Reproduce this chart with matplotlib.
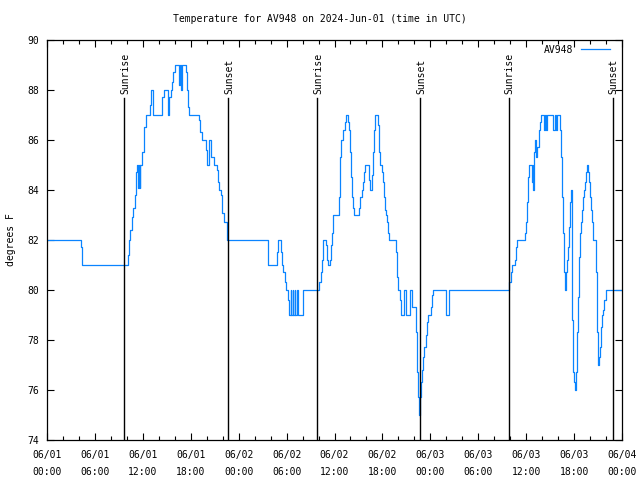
import matplotlib
matplotlib.use("Agg")
import matplotlib.pyplot as plt
from matplotlib.ticker import MultipleLocator

# hours since 2024-06-01 00:00 UTC, temperature (F) held until next point
hours = [0.0, 4.2, 4.4, 10.1, 10.3, 10.45, 10.65, 10.8, 11.0, 11.15, 11.3, 11.4, 11.5, 11.6, 11.7,
         11.9, 12.1, 12.45, 12.85, 13.05, 13.3, 14.45, 14.65, 15.2, 15.3, 15.5, 15.65, 15.8, 16.05,
         16.55, 16.7, 16.8, 16.95, 17.4, 17.5, 17.65, 17.8, 19.05, 19.2, 19.35, 19.85, 20.0, 20.3,
         20.55, 20.85, 21.25, 21.45, 21.55, 21.75, 21.9, 22.15, 22.5,
         27.7, 28.75, 28.95, 29.25, 29.45, 29.6, 29.8, 29.95, 30.15, 30.35, 30.5, 30.6, 30.75, 30.85,
         31.0, 31.1, 31.3, 31.45, 32.0,
         34.1, 34.27, 34.4, 34.52, 34.6, 34.9, 35.02, 35.15, 35.44, 35.56, 35.65, 35.77, 35.85, 36.6,
         36.73, 36.85, 37.1, 37.27, 37.4, 37.65, 37.82, 37.94, 38.07, 38.23, 38.32, 38.4, 39.11,
         39.24, 39.4, 39.61, 39.74, 39.86, 40.36, 40.48, 40.66, 40.78, 40.9, 41.03, 41.4, 41.57,
         41.74, 41.9, 42.11, 42.2, 42.32, 42.49, 42.61, 42.74, 42.86, 43.7, 43.87, 43.99, 44.2,
         44.33, 44.75, 44.9, 45.5, 45.75, 46.2, 46.3, 46.46, 46.58, 46.7, 46.83, 47.0, 47.12, 47.25,
         47.42, 47.54, 47.67, 48.08, 48.25, 48.37, 49.92, 50.34,
         57.89, 58.06, 58.19, 58.6, 58.73, 58.9, 59.9, 60.02, 60.14, 60.27, 60.39, 60.69, 60.82,
         60.9, 60.98, 61.1, 61.23, 61.4, 61.6, 61.73, 61.86, 62.2, 62.36, 62.48, 62.65, 63.4, 63.6,
         63.7, 63.86, 64.24, 64.36, 64.49, 64.65, 64.78, 64.9, 64.99, 65.07, 65.24, 65.36, 65.49,
         65.57, 65.7, 65.78, 65.9, 66.03, 66.15, 66.24, 66.37, 66.45, 66.58, 66.7, 66.83, 66.95,
         67.08, 67.2, 67.37, 67.49, 67.62, 67.74, 67.87, 67.99, 68.12, 68.28, 68.41, 68.7, 68.83,
         68.96, 69.16, 69.29, 69.41, 69.54, 69.66, 69.79, 69.96, 72.0]
temps = [82.0, 81.7, 81.0, 81.4, 82.0, 82.4, 82.9, 83.3, 83.8, 84.7, 85.0, 84.1, 85.0, 84.1, 85.0,
         85.5, 86.5, 87.0, 87.4, 88.0, 87.0, 87.7, 88.0, 87.0, 87.7, 88.0, 88.3, 88.7, 89.0,
         88.2, 89.0, 88.0, 89.0, 88.7, 88.0, 87.3, 87.0, 86.8, 86.3, 86.0, 85.6, 85.0, 86.0,
         85.3, 85.0, 84.8, 84.3, 84.0, 83.8, 83.1, 82.7, 82.0,
         81.0, 81.5, 82.0, 81.5, 81.0, 80.7, 80.3, 80.0, 79.6, 79.0, 80.0, 79.0, 80.0, 79.0,
         80.0, 79.0, 80.0, 79.0, 80.0,
         80.3, 80.7, 81.2, 81.8, 82.0, 81.8, 81.2, 81.0, 81.2, 81.8, 82.3, 82.7, 83.0, 83.7,
         85.3, 86.0, 86.4, 86.7, 87.0, 86.7, 86.4, 85.5, 84.5, 83.7, 83.3, 83.0, 83.3,
         83.7, 84.0, 84.3, 84.7, 85.0, 84.4, 84.0, 84.6, 85.5, 86.4, 87.0, 86.6, 85.5,
         85.0, 84.7, 84.3, 83.7, 83.2, 83.0, 82.7, 82.3, 82.0, 81.5, 80.5, 80.0, 79.6,
         79.0, 80.0, 79.0, 80.0, 79.3, 78.3, 76.7, 75.7, 75.0, 75.7, 76.3, 76.8, 77.3, 77.7,
         78.2, 78.7, 79.0, 79.3, 79.8, 80.0, 79.0, 80.0,
         80.3, 80.7, 81.0, 81.2, 81.7, 82.0, 82.3, 82.7, 83.5, 84.5, 85.0, 84.3, 85.0,
         84.0, 85.5, 86.0, 85.3, 85.7, 86.4, 86.7, 87.0, 86.4, 87.0, 86.4, 87.0, 86.4, 87.0,
         86.4, 87.0, 86.4, 85.3, 83.7, 82.3, 80.7, 80.0, 80.7, 81.2, 81.7, 82.5, 83.5,
         84.0, 82.5, 78.8, 76.7, 76.3, 76.0, 76.7, 78.3, 79.7, 81.3, 82.3, 82.7, 83.2,
         83.7, 84.0, 84.3, 84.7, 85.0, 84.7, 84.3, 83.7, 83.2, 82.7, 82.0, 80.7, 78.3,
         77.0, 77.3, 77.7, 78.5, 79.0, 79.2, 79.6, 80.0, 80.0]

sun_hours = [9.68, 22.71, 33.77, 46.75, 57.8, 70.83]
sun_names = ["Sunrise", "Sunset", "Sunrise", "Sunset", "Sunrise", "Sunset"]

tick_hours = list(range(0, 73, 6))
tick_labels = ["06/01\n00:00", "06/01\n06:00", "06/01\n12:00", "06/01\n18:00",
               "06/02\n00:00", "06/02\n06:00", "06/02\n12:00", "06/02\n18:00",
               "06/03\n00:00", "06/03\n06:00", "06/03\n12:00", "06/03\n18:00",
               "06/04\n00:00"]

plt.rcParams['font.family'] = ['DejaVu Sans Mono']
plt.rcParams['font.size'] = 7

fig = plt.figure(figsize=(6.4, 4.8), dpi=100)
ax = fig.add_axes([47 / 640, 40 / 480, 575 / 640, 400 / 480])

ax.plot(hours, temps, drawstyle='steps-post', color='#0a84ff', lw=0.9, label='AV948')

# sunrise / sunset markers
for h, name in zip(sun_hours, sun_names):
    ax.plot([h, h], [74, 87.68], color='black', lw=1.0)
    ax.text(h + 0.15, 87.85, name, rotation=90, ha='center', va='bottom', fontsize=7)

ax.set_xlim(0, 72)
ax.set_ylim(74, 90)
ax.set_xticks(tick_hours)
ax.set_xticklabels(tick_labels, linespacing=1.85)
ax.xaxis.set_minor_locator(MultipleLocator(2))
ax.set_yticks(range(74, 91, 2))

ax.tick_params(which='both', direction='in', top=True, right=True, width=0.8)
ax.tick_params(which='major', length=5)
ax.tick_params(which='minor', length=3)
ax.tick_params(axis='x', pad=7)
ax.tick_params(axis='y', pad=6)

for s in ax.spines.values():
    s.set_linewidth(0.9)

ax.set_ylabel('degrees F', labelpad=8)
fig.text(0.5, 1 - 19 / 480, 'Temperature for AV948 on 2024-Jun-01 (time in UTC)',
         ha='center', va='center', fontsize=7)

ax.legend(loc='upper right', bbox_to_anchor=(1 - 5 / 575, 1 + 2 / 400), frameon=False,
          handlelength=3.0, markerfirst=False, borderaxespad=0.3, fontsize=7)

fig.savefig('out.png', dpi=100)
